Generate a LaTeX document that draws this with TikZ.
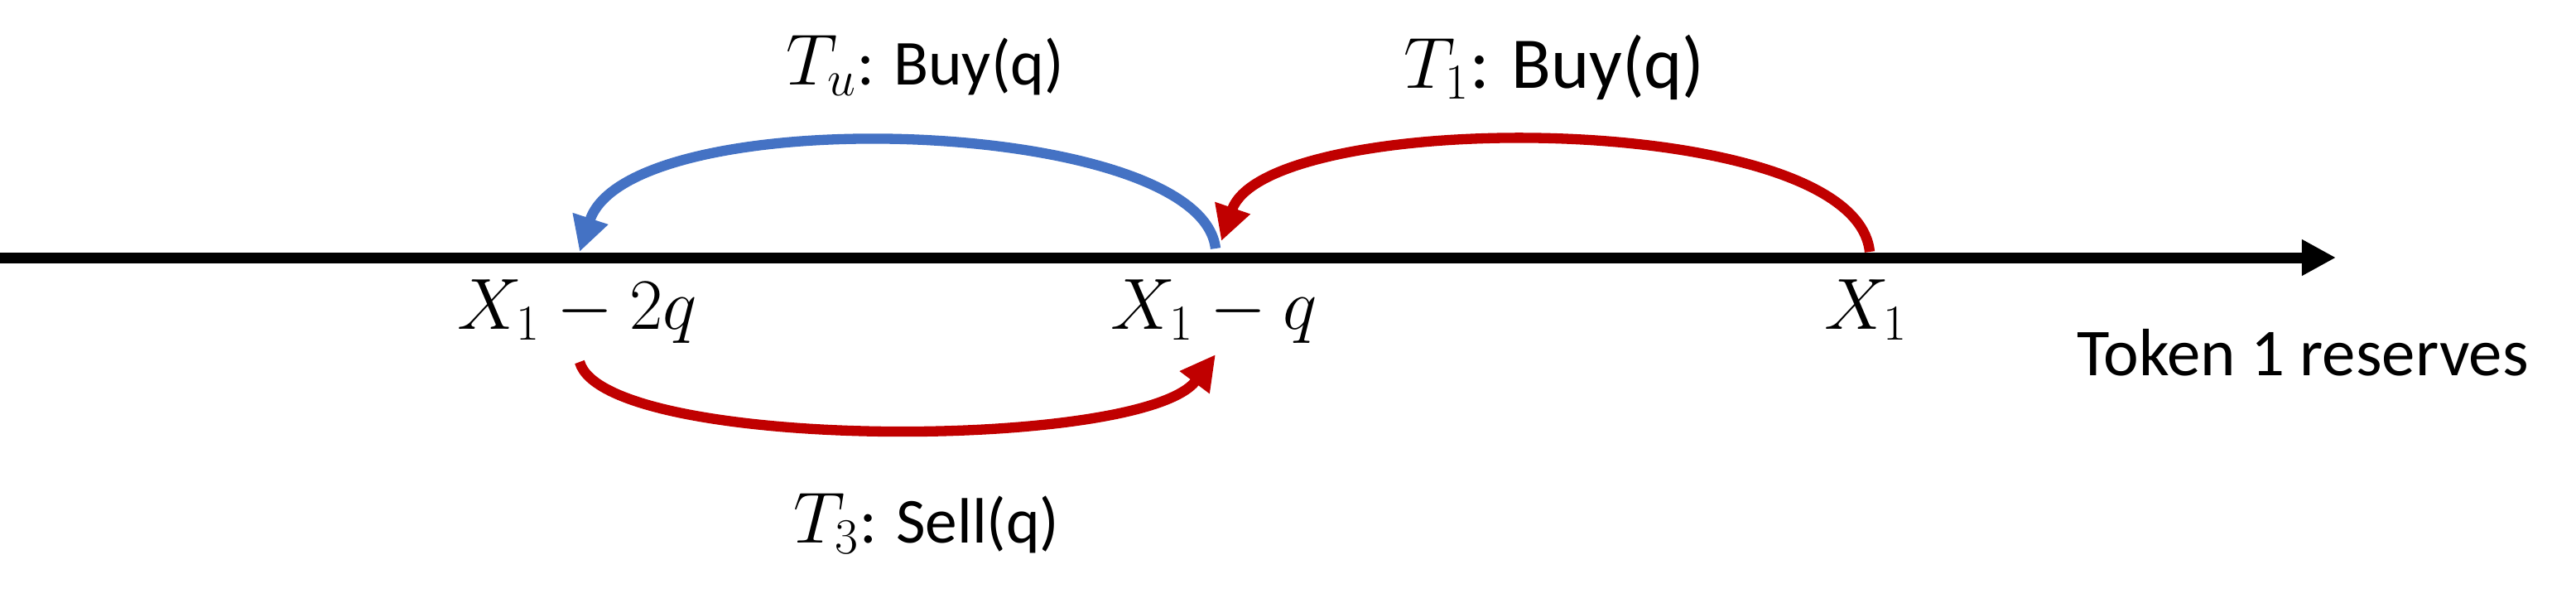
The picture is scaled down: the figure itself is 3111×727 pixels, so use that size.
\documentclass[tikz,border=0pt]{standalone}
\usepackage{fontspec}
\setmainfont{Carlito}
\usetikzlibrary{arrows.meta}
\definecolor{arcred}{HTML}{C00000}
\definecolor{arcblue}{HTML}{4472C4}
\newcommand{\lblmath}[1]{{\fontsize{23.5}{27}\selectfont$#1$}}
\begin{document}
\begin{tikzpicture}[x=0.01cm,y=-0.01cm,
  axisline/.style={line width=3.7pt,black,-{Triangle[length=11.7pt,width=11.7pt]}},
  arcline/.style={line width=3.5pt,-{Triangle[length=12pt,width=12pt]}},
  lbl/.style={anchor=base,inner sep=0pt,font=\fontsize{22}{26}\selectfont},
  mlbl/.style={anchor=base,inner sep=0pt,font=\fontsize{23}{27}\selectfont}]
\useasboundingbox (0,0) rectangle (3111,727);
% axis
\coordinate (a0) at (0,311);
\coordinate (a1) at (2821,311);
\draw[axisline] (a0) -- (a1);
% arc end points
\coordinate (t1s) at (2258,304);
\coordinate (t1e) at (1475,291);
\coordinate (tus) at (1468,300);
\coordinate (tue) at (700,304);
\coordinate (t3s) at (700,437);
\coordinate (t3e) at (1468,428);
% arcs
\draw[arcline,arcred] (t1s) .. controls (2240,130) and (1530,130) .. (t1e);
\draw[arcline,arcblue] (tus) .. controls (1450,140) and (760,120) .. (tue);
\draw[arcline,arcred] (t3s) .. controls (730,545) and (1380,545) .. (t3e);
% labels
\node[lbl] (lu) at (1117,102) {\lblmath{T_u}: Buy(q)};
\node[lbl,font=\fontsize{25}{29}\selectfont] (l1) at (1877,106) {$T_1$: Buy(q)};
\node[lbl] (l3) at (1119,655) {\lblmath{T_3}: Sell(q)};
\node[mlbl] (x2) at (697,397) {$X_1-2q$};
\node[mlbl] (x1q) at (1466,397) {$X_1-q$};
\node[mlbl] (x1) at (2254,397) {$X_1$};
\node[lbl,font=\fontsize{23}{27}\selectfont] (tok) at (2781,453) {Token 1 reserves};
\end{tikzpicture}
\end{document}
